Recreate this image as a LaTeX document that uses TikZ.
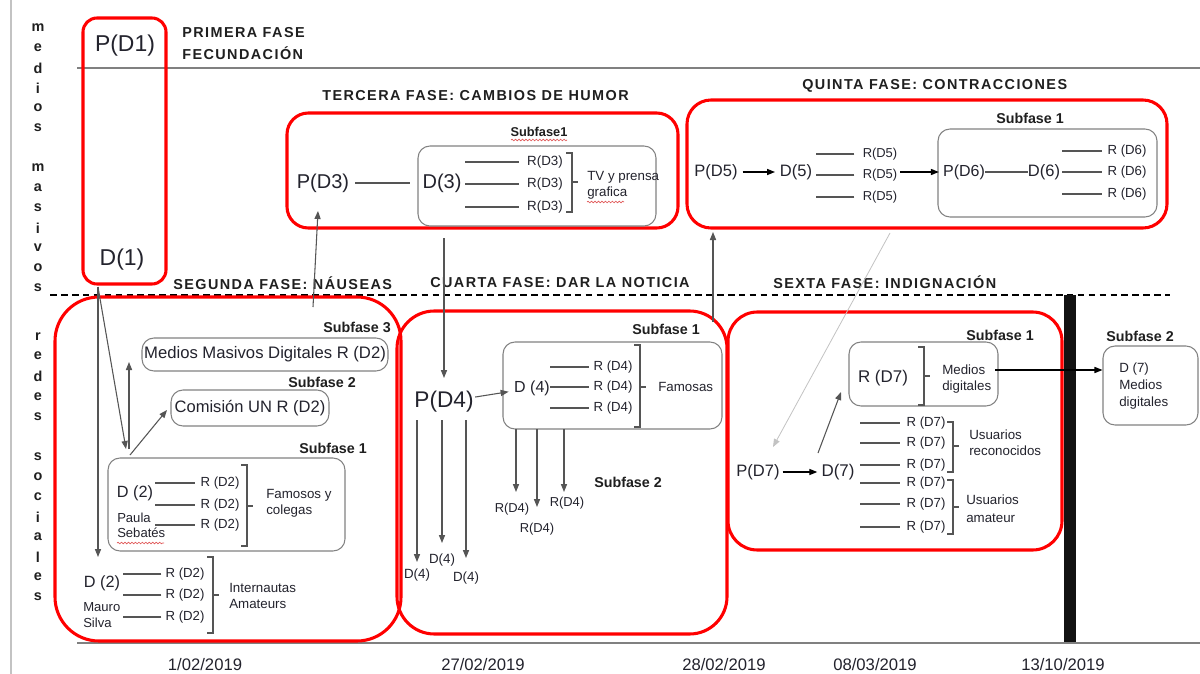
\documentclass[tikz,border=0pt]{standalone}
\usepackage{fontspec}
\setmainfont{Liberation Sans}
\newfontfamily\headfont{Liberation Sans}[LetterSpace=10]
\usetikzlibrary{arrows.meta,fit,decorations.pathmorphing}
\definecolor{redc}{RGB}{255,0,0}
\definecolor{boxg}{RGB}{130,130,130}
\definecolor{lng}{RGB}{85,85,85}
\definecolor{lgt}{RGB}{195,195,195}
\definecolor{txtc}{RGB}{35,35,45}
\definecolor{spellc}{RGB}{225,90,90}
\newcommand\FsZ[1]{\fontsize{#1}{#1}\selectfont}
\newcommand\RLineZ[3]{\draw[ln] ([xshift=-#2pt]#1.west) -- ++(-#3,0);}
\newcommand\BrkZ[4]{\draw[ln] (#1-6,#2) -- (#1,#2) -- (#1,#3) -- (#1-6,#3) (#1,#4) -- (#1+6,#4);}
\tikzset{
  redbox/.style={draw=redc, line width=2.3pt, inner sep=0pt},
  gbox/.style={draw=boxg, line width=0.8pt, rounded corners=9pt, inner sep=0pt},
  ln/.style={draw=lng, line width=0.8pt},
  arr/.style={ln, -{Triangle[length=6pt,width=4.6pt]}},
  barr/.style={draw=black, line width=0.9pt, -{Triangle[length=6pt,width=4.6pt]}},
  tx/.style={inner sep=0pt, text=txtc, font=\FsZ{#1}},
  hd/.style={inner sep=0pt, anchor=west, text=black!88, font=\headfont\bfseries\FsZ{10.8}},
  sf/.style={inner sep=0pt, text=black!88, font=\bfseries\FsZ{#1}},
  ml/.style 2 args={inner sep=0pt, anchor=west, align=left, text=txtc, font=\fontsize{#1}{#2}\selectfont},
  spell/.style={draw=spellc, line width=0.5pt, decorate, decoration={snake, amplitude=0.6pt, segment length=2.6pt}},
}
\begin{document}
\begin{tikzpicture}[x=0.75pt, y=-0.75pt]
\fill[white] (0,0) rectangle (1200,674);
\useasboundingbox (0,0) rectangle (1200,674);

% frame lines
\draw[lgt, line width=0.8pt] (11,0) -- (11,674);
\draw[gray, line width=0.9pt] (77,68) -- (1200,68);
\draw[black, line width=2.2pt, dash pattern=on 5pt off 3.2pt] (50,295) -- (1170,295);
\draw[gray, line width=1.2pt] (77,643) -- (1200,643);

% vertical words
\foreach \l/\y in {m/28,e/48,d/68,i/88,o/108,s/128,m/168,a/188,s/208,i/228,v/248,o/268,s/288,
                   r/337,e/356,d/376,e/397,s/417,s/457,o/477,c/497,i/517,a/537,l/557,e/577,s/597}
  \node[sf=10.8] (v\y) at (38,\y) {\l};

% red phase boxes
\node[redbox, rounded corners=10.5pt, fit={(83,18) (166,284)}] (f1) {};
\node[redbox, rounded corners=33pt, fit={(55,297) (401,641)}] (f2) {};
\node[redbox, rounded corners=16pt, fit={(287,113) (678,228)}] (f3) {};
\node[redbox, rounded corners=28pt, fit={(397,311) (727,634)}] (f4) {};
\node[redbox, rounded corners=18pt, fit={(687,100) (1167,228)}] (f5) {};
\node[redbox, rounded corners=22pt, fit={(728,312) (1062,550)}] (f6) {};

% black bar
\draw[black!93, line width=9pt] (1070,295) -- (1070,642);

% headings
\node[hd] (h1a) at (182,33) {PRIMERA FASE};
\node[hd] (h1b) at (182,53) {FECUNDACIÓN};
\node[hd] (h3) at (322,96) {TERCERA FASE: CAMBIOS DE HUMOR};
\node[hd] (h2) at (173,283) {SEGUNDA FASE: NÁUSEAS};
\node[hd] (h4) at (430,283) {CUARTA FASE: DAR LA NOTICIA};
\node[hd] (h5) at (802,86) {QUINTA FASE: CONTRACCIONES};
\node[hd] (h6) at (773,282) {SEXTA FASE: INDIGNACIÓN};

% dates
\node[tx=12.5] (t1) at (205,665) {1/02/2019};
\node[tx=12.5] (t2) at (483,665) {27/02/2019};
\node[tx=12.5] (t3) at (724,665) {28/02/2019};
\node[tx=12.5] (t4) at (875,665) {08/03/2019};
\node[tx=12.5] (t5) at (1063,665) {13/10/2019};

% ---- primera fase
\node[tx=17.2] (pd1) at (125,46) {P(D1)};
\node[tx=17.2] (d1) at (122,260) {D(1)};

% ---- tercera fase
\node[gbox, fit={(418,146) (656,226)}] (g3) {};
\node[sf=9.6] (sf3) at (539,132) {Subfase1};
\draw[spell] (511,140) -- (567,140);
\node[tx=15] (pd3) at (323,183) {P(D3)};
\node[tx=15] (d3) at (442,183) {D(3)};
\draw[ln] ([xshift=4.5pt]pd3.east) -- ([xshift=-9pt]d3.west);
\node[tx=10] (r3a) at (545,162) {R(D3)};
\node[tx=10] (r3b) at (545,184) {R(D3)};
\node[tx=10] (r3c) at (545,207) {R(D3)};
\RLineZ{r3a}{6}{54}\RLineZ{r3b}{6}{54}\RLineZ{r3c}{6}{54}
\BrkZ{572}{153}{212}{182}
\node[ml={10}{12}] (tv3) at (587,185) {TV y prensa\\grafica};
\draw[spell] (587,202) -- (624,202);

% ---- quinta fase
\node[gbox, fit={(938,129) (1157,217)}] (g5) {};
\node[sf=10.7] (sf5) at (1030,118) {Subfase 1};
\node[tx=12.4, inner xsep=3.5pt] (pd5) at (716,172) {P(D5)};
\node[tx=12.4, inner xsep=3.5pt] (d5) at (796,172) {D(5)};
\draw[barr] (pd5) -- (d5);
\node[tx=9.7] (r5a) at (880,154) {R(D5)};
\node[tx=9.7] (r5b) at (880,175) {R(D5)};
\node[tx=9.7] (r5c) at (880,197) {R(D5)};
\RLineZ{r5a}{6}{38}\RLineZ{r5b}{6}{38}\RLineZ{r5c}{6}{38}
\node[tx=12] (pd6) at (964,172) {P(D6)};
\node[tx=12.4] (d6) at (1044,172) {D(6)};
\draw[barr, shorten <=2pt, shorten >=3pt] (r5b.east |- pd6) -- (pd6.west);
\draw[ln] (pd6) -- (d6);
\node[tx=9.9] (r6a) at (1127,151) {R (D6)};
\node[tx=9.9] (r6b) at (1127,172) {R (D6)};
\node[tx=9.9] (r6c) at (1127,194) {R (D6)};
\RLineZ{r6a}{4}{40}\RLineZ{r6b}{4}{40}\RLineZ{r6c}{4}{40}

% ---- segunda fase
\node[gbox, fit={(142,338) (388,371)}] (gm) {};
\node[tx=12.5] (tm) at (gm) {Medios Masivos Digitales R (D2)};
\node[sf=10.7] (sf23) at (357,327) {Subfase 3};
\node[gbox, fit={(171,390) (329,426)}] (gc) {};
\node[tx=12.4] (tc) at (gc) {Comisión UN R (D2)};
\node[sf=10.7] (sf22) at (322,382) {Subfase 2};
\node[gbox, fit={(108,458) (345,551)}] (gs1) {};
\node[sf=10.7] (sf21) at (333,448) {Subfase 1};
\node[tx=12.2] (d2a) at (135,493) {D (2)};
\node[ml={9.8}{11.3}] (ps) at (117,525) {Paula\\Sebatés};
\draw[spell] (117,543) -- (164,543);
\node[tx=9.9] (r2a) at (220,483) {R (D2)};
\node[tx=9.9] (r2b) at (220,505) {R (D2)};
\node[tx=9.9] (r2c) at (220,525) {R (D2)};
\RLineZ{r2a}{4}{40}\RLineZ{r2b}{4}{40}\RLineZ{r2c}{4}{40}
\BrkZ{247}{465}{546}{506}
\node[ml={10}{12}] (fc) at (266,503) {Famosos y\\colegas};
\node[tx=12.2] (d2b) at (102,583) {D (2)};
\node[ml={9.8}{12}] (ms) at (83,615) {Mauro\\Silva};
\node[tx=9.9] (r2d) at (185,574) {R (D2)};
\node[tx=9.9] (r2e) at (185,595) {R (D2)};
\node[tx=9.9] (r2f) at (185,617) {R (D2)};
\RLineZ{r2d}{3}{38}\RLineZ{r2e}{3}{38}\RLineZ{r2f}{3}{38}
\BrkZ{213}{557}{633}{595}
\node[ml={10}{12}] (ia) at (229,596) {Internautas\\Amateurs};

\coordinate (d1s) at (98,287);
\coordinate (m2e) at (98,557);
\coordinate (s1e) at (126,449);
\coordinate (s1b) at (129,449);
\coordinate (mme) at (129,362);
\coordinate (s1c) at (130,455);
\coordinate (cme) at (167,410);
\draw[arr] (d1s) -- (m2e);
\draw[arr] (d1s) -- (s1e);
\draw[arr] (s1b) -- (mme);
\draw[arr] (s1c) -- (cme);
\coordinate (f2t) at (313,307);
\coordinate (p3e) at (318,211);
\draw[arr] (f2t) -- (p3e);

% ---- cuarta fase
\node[gbox, fit={(503,342) (722,429)}] (g4) {};
\node[sf=10.7] (sf41) at (666,329) {Subfase 1};
\node[tx=17, inner xsep=1pt] (pd4) at (444,402) {P(D4)};
\node[tx=12, inner xsep=4pt] (d4) at (532,388) {D (4)};
\draw[arr] (pd4) -- (d4);
\node[tx=9.9] (r4a) at (613,367) {R (D4)};
\node[tx=9.9] (r4b) at (613,387) {R (D4)};
\node[tx=9.9] (r4c) at (613,408) {R (D4)};
\RLineZ{r4a}{3.5}{39}\RLineZ{r4b}{3.5}{39}\RLineZ{r4c}{3.5}{39}
\BrkZ{640}{345}{427}{387}
\node[tx=10, anchor=west] (fam) at (658,387) {Famosas};
\coordinate (g3b) at (444,238);
\coordinate (p4t) at (444,378);
\draw[arr] (g3b) -- (p4t);
\node[sf=10.7] (sf42) at (628,482) {Subfase 2};
\coordinate (v1) at (516,429); \coordinate (v1e) at (516,492);
\coordinate (v2) at (537,429); \coordinate (v2e) at (537,507);
\coordinate (v3) at (564,429); \coordinate (v3e) at (564,492);
\draw[arr] (v1) -- (v1e); \draw[arr] (v2) -- (v2e); \draw[arr] (v3) -- (v3e);
\node[tx=9.7] (q4a) at (512,509) {R(D4)};
\node[tx=9.7] (q4b) at (537,529) {R(D4)};
\node[tx=9.7] (q4c) at (567,503) {R(D4)};
\coordinate (w1) at (417,420); \coordinate (w1e) at (417,562);
\coordinate (w2) at (442,420); \coordinate (w2e) at (442,543);
\coordinate (w3) at (466,420); \coordinate (w3e) at (466,558);
\draw[arr] (w1) -- (w1e); \draw[arr] (w2) -- (w2e); \draw[arr] (w3) -- (w3e);
\node[tx=10] (e4a) at (417,575) {D(4)};
\node[tx=10] (e4b) at (442,560) {D(4)};
\node[tx=10] (e4c) at (466,578) {D(4)};
\coordinate (f4t) at (713,322);
\coordinate (f5b) at (713,232);
\draw[arr] (f4t) -- (f5b);

% ---- sexta fase
\coordinate (q5) at (890,233);
\coordinate (p7t) at (773,447);
\draw[draw=lgt, line width=0.6pt, -{Triangle[length=6pt,width=4.6pt]}] (q5) -- (p7t);
\node[tx=12.4, inner xsep=2pt] (pd7) at (758,472) {P(D7)};
\node[tx=12.7, inner xsep=3pt] (d7) at (838,472) {D(7)};
\draw[barr] (pd7) -- (d7);
\coordinate (u7) at (818,453);
\coordinate (u7e) at (841,392);
\draw[arr] (u7) -- (u7e);
\node[gbox, fit={(849,342) (998,406)}] (g6) {};
\node[sf=10.7] (sf61) at (1000,335) {Subfase 1};
\node[tx=12.7] (r7) at (883,378) {R (D7)};
\BrkZ{924}{347}{405}{376}
\node[ml={10}{12.5}] (md7) at (942,379) {Medios\\digitales};
\node[gbox, fit={(1103,346) (1198,425)}] (g7) {};
\node[sf=10.7] (sf62) at (1140,336) {Subfase 2};
\node[ml={10}{12.8}] (d7b) at (1119,386) {D (7)\\Medios\\digitales};
\coordinate (m7s) at (995,370);
\draw[barr] (m7s) -- (m7s -| g7.west);
\foreach \n/\y in {a/423,b/443,c/465,d/483,e/504,f/527}{
  \node[tx=9.9] (s7\n) at (926,\y) {R (D7)};
  \RLineZ{s7\n}{5}{40}
}
\BrkZ{953}{422}{472}{446}
\BrkZ{953}{480}{534}{507}
\node[ml={10}{12}] (ur) at (969,443) {Usuarios\\reconocidos};
\node[ml={10}{13.5}] (ua) at (966,509) {Usuarios\\amateur};
\end{tikzpicture}
\end{document}
